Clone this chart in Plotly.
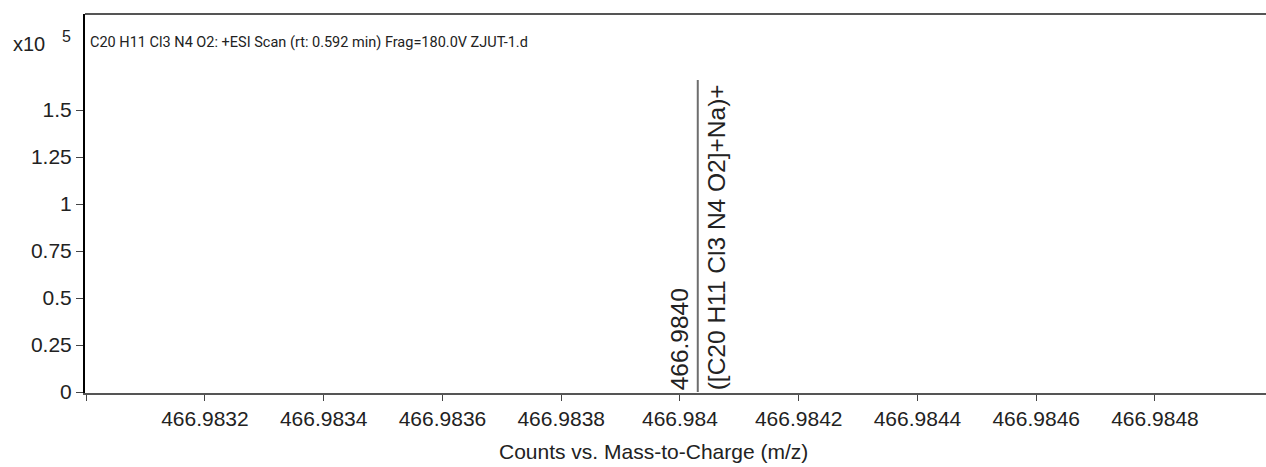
import plotly.graph_objects as go

# Data
peak_mz = [466.98403]
peak_counts = [1.66e5]
peak_mz_labels = ["466.9840"]
peak_formula_labels = ["([C20 H11 Cl3 N4 O2]+Na)+"]
scale_exp = 5
x_tick_vals = [466.9830, 466.9832, 466.9834, 466.9836, 466.9838, 466.9840,
               466.9842, 466.9844, 466.9846, 466.9848]
x_tick_text = ["", "466.9832", "466.9834", "466.9836", "466.9838", "466.984",
               "466.9842", "466.9844", "466.9846", "466.9848"]
y_tick_vals = [0, 0.25, 0.5, 0.75, 1, 1.25, 1.5]
y_tick_text = ["0", "0.25", "0.5", "0.75", "1", "1.25", "1.5"]
scan_title = "C20 H11 Cl3 N4 O2: +ESI Scan (rt: 0.592 min) Frag=180.0V ZJUT-1.d"
x_title = "Counts vs. Mass-to-Charge (m/z)"

scale = 10 ** scale_exp
FONT = "Liberation Sans, Arial, sans-serif"
W, H = 1266, 467
L, R, T, B = 85, 0, 14, 74
PW, PH = W - L - R, H - T - B


def px(xp):
    return (xp - L) / PW


def py(yp):
    return (H - B - yp) / PH


fig = go.Figure()
for mz, c in zip(peak_mz, peak_counts):
    fig.add_trace(go.Scatter(x=[mz, mz], y=[0, c / scale], mode="lines",
                             line=dict(color="#6e6e6e", width=2),
                             showlegend=False, hoverinfo="skip"))

for mz, c, lab, form in zip(peak_mz, peak_counts, peak_mz_labels, peak_formula_labels):
    fig.add_annotation(x=mz, y=0, xref="x", yref="y", text=lab, textangle=-90,
                       showarrow=False, xanchor="right", yanchor="bottom",
                       xshift=-3, yshift=0,
                       font=dict(family=FONT, size=24.5, color="#222"))
    fig.add_annotation(x=mz, y=0, xref="x", yref="y", text=form, textangle=-90,
                       showarrow=False, xanchor="left", yanchor="bottom",
                       xshift=3, yshift=0,
                       font=dict(family=FONT, size=24.5, color="#222"))

fig.add_annotation(x=px(88), y=py(42), xref="paper", yref="paper", text=scan_title,
                   showarrow=False, xanchor="left", yanchor="middle",
                   font=dict(family="Roboto, sans-serif", size=14.5, color="#222"))
fig.add_annotation(x=px(11), y=py(44), xref="paper", yref="paper", text="x10",
                   showarrow=False, xanchor="left", yanchor="middle",
                   font=dict(family=FONT, size=20, color="#222"))
fig.add_annotation(x=px(60), y=py(37), xref="paper", yref="paper",
                   text=str(scale_exp), showarrow=False, xanchor="left",
                   yanchor="middle", font=dict(family=FONT, size=16, color="#222"))
fig.add_annotation(x=px(653), y=py(451), xref="paper", yref="paper",
                   text=x_title, showarrow=False, xanchor="center",
                   yanchor="middle", font=dict(family=FONT, size=21, color="#222"))

fig.update_layout(
    width=W, height=H,
    margin=dict(l=L, r=R, t=T, b=B, autoexpand=False),
    plot_bgcolor="white", paper_bgcolor="white",
    font=dict(family=FONT, size=21, color="#222"),
    xaxis=dict(range=[466.982998, 466.984987], tickvals=x_tick_vals,
               ticktext=x_tick_text, showgrid=False, zeroline=False,
               ticks="outside", ticklen=6, tickcolor="#444", tickwidth=1,
               showline=True, linecolor="#555", linewidth=2, mirror=False,
               automargin=False),
    yaxis=dict(range=[-0.005, 2.011], tickvals=y_tick_vals, ticktext=y_tick_text,
               showgrid=False, zeroline=False, ticks="outside", ticklen=7,
               tickcolor="#444", tickwidth=1, showline=True, linecolor="black",
               linewidth=2, automargin=False),
    shapes=[dict(type="line", xref="paper", yref="paper", x0=0, x1=1, y0=1, y1=1,
                 line=dict(color="#555", width=2))],
)

fig.write_html("out.html",
               config={"displayModeBar": False},
               post_script="document.body.style.margin='0';"
                           "document.body.style.overflow='hidden';")
